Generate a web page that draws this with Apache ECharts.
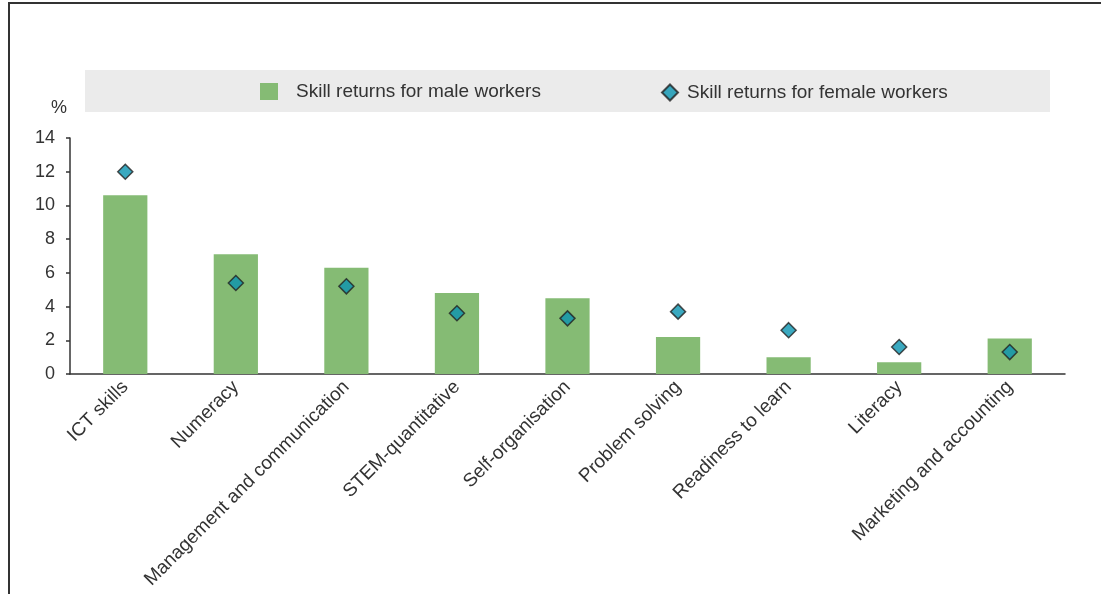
<!DOCTYPE html>
<html>
<head>
<meta charset="utf-8">
<script src="https://cdn.jsdelivr.net/npm/echarts@6/dist/echarts.min.js"></script>
<style>
  html, body { margin: 0; padding: 0; background: #fff; }
  #chart { width: 1101px; height: 594px; }
</style>
</head>
<body>
<div id="chart"></div>
<script>
// 技能类别
const skills = [
    'ICT skills', 'Numeracy', 'Management and communication', 'STEM-quantitative',
    'Self-organisation', 'Problem solving', 'Readiness to learn', 'Literacy',
    'Marketing and accounting'
];
// 男性/女性技能回报 (%)
const maleReturns = [10.6, 7.1, 6.3, 4.8, 4.5, 2.2, 1.0, 0.7, 2.1];
const femaleReturns = [12.0, 5.4, 5.2, 3.6, 3.3, 3.7, 2.6, 1.6, 1.3];
const yTicks = { min: 0, max: 14, step: 2 };

const MALE = 'Skill returns for male workers';
const FEMALE = 'Skill returns for female workers';
const FONT = "'Liberation Sans', Arial, sans-serif";

const chart = echarts.init(document.getElementById('chart'));

const option = {
    animation: false,
    backgroundColor: '#fff',
    textStyle: { fontFamily: FONT },
    grid: { left: 70, right: 36, top: 138, bottom: 220, containLabel: false },
    legend: [
        {
            data: [{ name: MALE, icon: 'rect' }],
            left: 260, top: 82, padding: 0,
            itemWidth: 18, itemHeight: 17,
            textStyle: { fontSize: 19, color: '#333', fontFamily: FONT, padding: [0, 0, 0, 13] }
        },
        {
            data: [FEMALE],
            left: 661, top: 83, padding: 0,
            itemWidth: 16, itemHeight: 16,
            textStyle: { fontSize: 19, color: '#333', fontFamily: FONT, padding: [0, 0, 0, 4] }
        }
    ],
    xAxis: {
        type: 'category',
        data: skills,
        axisLine: { lineStyle: { color: '#333', width: 1.5 } },
        axisTick: { inside: true, length: 5, lineStyle: { color: '#333', width: 1.5 } },
        axisLabel: {
            rotate: 45, interval: 0, margin: 10,
            fontSize: 19, color: '#333', fontFamily: FONT
        }
    },
    yAxis: {
        type: 'value',
        min: yTicks.min, max: yTicks.max, interval: yTicks.step,
        splitLine: { show: false },
        axisLine: { show: true, lineStyle: { color: '#333', width: 1.5 } },
        axisTick: { show: true, length: 4, lineStyle: { color: '#333', width: 1.5 } },
        axisLabel: { fontSize: 18, color: '#333', margin: 15, fontFamily: FONT }
    },
    series: [
        {
            name: MALE,
            type: 'bar',
            data: maleReturns,
            barWidth: '40%',
            itemStyle: { color: '#85bb74' }
        },
        {
            name: FEMALE,
            type: 'scatter',
            data: femaleReturns,
            symbol: 'diamond',
            symbolSize: 15,
            itemStyle: { color: '#0a93b0', borderColor: '#222', borderWidth: 1.5 },
            z: 5
        }
    ],
    graphic: [
        // 外框 (左、上)
        {
            type: 'polyline',
            shape: { points: [[9, 594], [9, 3], [1101, 3]] },
            style: { stroke: '#333', lineWidth: 2, fill: null },
            silent: true
        },
        // 图例背景
        {
            type: 'rect',
            shape: { x: 85, y: 70, width: 965, height: 42 },
            style: { fill: '#ebebeb' },
            z: -10,
            silent: true
        },
        {
            type: 'text',
            left: 51, top: 99,
            style: { text: '%', fill: '#333', font: '18px ' + FONT }
        }
    ]
};

chart.setOption(option);
</script>
</body>
</html>
